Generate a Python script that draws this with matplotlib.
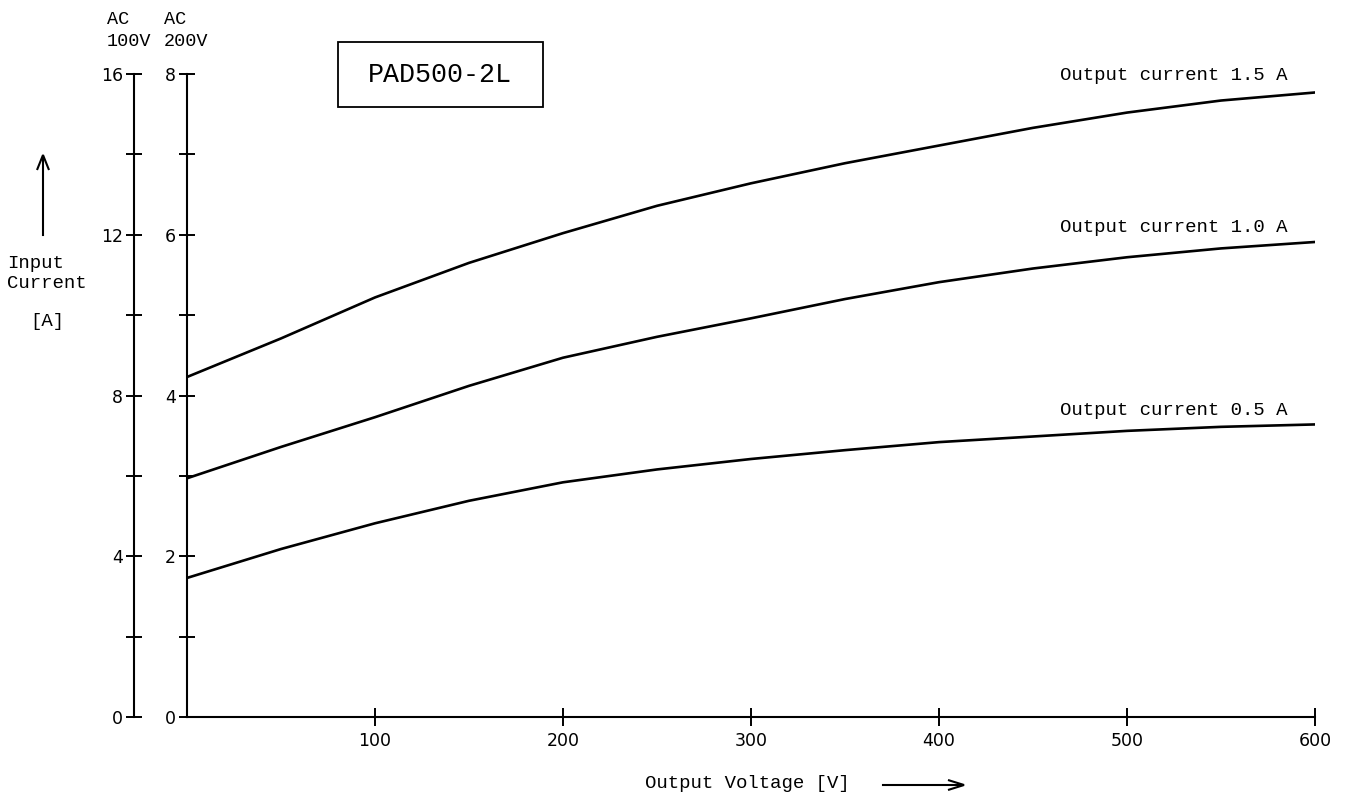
import matplotlib.pyplot as plt
from matplotlib.patches import Rectangle, Polygon

# output voltage [V]
volts = [0, 50, 100, 150, 200, 250, 300, 350, 400, 450, 500, 550, 600]

# input current [A] on the AC 200V scale
cur_15 = [4.23, 4.71, 5.22, 5.65, 6.02, 6.36, 6.64, 6.89, 7.11, 7.33, 7.52, 7.67, 7.77]
cur_10 = [2.97, 3.36, 3.73, 4.12, 4.47, 4.73, 4.96, 5.20, 5.41, 5.58, 5.72, 5.83, 5.91]
cur_05 = [1.73, 2.09, 2.41, 2.69, 2.92, 3.08, 3.21, 3.32, 3.42, 3.49, 3.56, 3.61, 3.64]

curve_labels = ['Output current 1.5 A', 'Output current 1.0 A', 'Output current 0.5 A']

x_ticks = [100, 200, 300, 400, 500, 600]
y_ticks = [0, 1, 2, 3, 4, 5, 6, 7, 8]
y_labels = ['0', '', '2', '', '4', '', '6', '', '8']
y2_ticks = [0, 2, 4, 6, 8, 10, 12, 14, 16]
y2_labels = ['0', '', '4', '', '8', '', '12', '', '16']

mono = 'Liberation Mono'
W, H = 1348, 805
dpi = 100
fig = plt.figure(dpi=dpi, figsize=(W / dpi, H / dpi))
ax = fig.add_axes([187 / W, 1 - 717 / H, 1128 / W, 643 / H])


def fx(px):
    return px / W


def fy(py):
    return 1 - py / H


for ys in (cur_15, cur_10, cur_05):
    ax.plot(volts, ys, color='black', lw=1.9, solid_capstyle='round')

ax.set_xlim(0, 600)
ax.set_ylim(0, 8)
ax.spines['top'].set_visible(False)
ax.spines['right'].set_visible(False)
for s in ('left', 'bottom'):
    ax.spines[s].set_linewidth(1.5)

ax.set_xticks(x_ticks)
ax.set_yticks(y_ticks)
ax.set_yticklabels(y_labels)
ax.tick_params(axis='y', direction='inout', length=12, width=1.4, labelsize=12.5, pad=2)
ax.tick_params(axis='x', direction='inout', length=13.5, width=1.4, labelsize=12.5, pad=4)

sec = ax.secondary_yaxis(-53 / 1128, functions=(lambda y: y * 2, lambda y: y / 2))
sec.set_yticks(y2_ticks)
sec.set_yticklabels(y2_labels)
sec.spines['left'].set_linewidth(1.5)
sec.tick_params(direction='inout', length=12, width=1.4, labelsize=12.5, pad=2)

# curve labels
ax.text(585.5, 7.985, curve_labels[0], ha='right', va='center', family=mono, fontsize=13.7)
ax.text(585.5, 6.095, curve_labels[1], ha='right', va='center', family=mono, fontsize=13.7)
ax.text(585.5, 3.818, curve_labels[2], ha='right', va='center', family=mono, fontsize=13.7)

# model box
fig.add_artist(Rectangle((fx(338), fy(107)), fx(543) - fx(338), fy(42) - fy(107),
                         transform=fig.transFigure, fill=False, ec='black', lw=1.3))
fig.text(fx(440), fy(75), 'PAD500-2L', ha='center', va='center', family=mono, fontsize=19.2)

# axis headers
fig.text(fx(107), fy(19), 'AC', ha='left', va='center', family=mono, fontsize=13.3)
fig.text(fx(107), fy(41), '100V', ha='left', va='center', family=mono, fontsize=13.3)
fig.text(fx(164), fy(19), 'AC', ha='left', va='center', family=mono, fontsize=13.3)
fig.text(fx(164), fy(41), '200V', ha='left', va='center', family=mono, fontsize=13.3)

fig.text(fx(7), fy(263), 'Input', ha='left', va='center', family=mono, fontsize=13.7)
fig.text(fx(7), fy(284), 'Current', ha='left', va='center', family=mono, fontsize=13.7)
fig.text(fx(47), fy(321), '[A]', ha='center', va='center', family=mono, fontsize=13.7)
fig.add_artist(plt.Line2D([fx(43), fx(43)], [fy(235), fy(157)], color='black', lw=1.5))
fig.add_artist(Polygon([[fx(37), fy(170)], [fx(43), fy(155)], [fx(49), fy(170)]],
                       closed=False, fill=False, ec='black', lw=1.5,
                       transform=fig.transFigure))

fig.text(fx(645), fy(783), 'Output Voltage [V]', ha='left', va='center',
         family=mono, fontsize=13.7)
fig.add_artist(plt.Line2D([fx(883), fx(962)], [fy(785), fy(785)], color='black', lw=1.5))
fig.add_artist(Polygon([[fx(948), fy(780)], [fx(964), fy(785)], [fx(948), fy(790)]],
                       closed=False, fill=False, ec='black', lw=1.5,
                       transform=fig.transFigure))

fig.savefig('out.png')
